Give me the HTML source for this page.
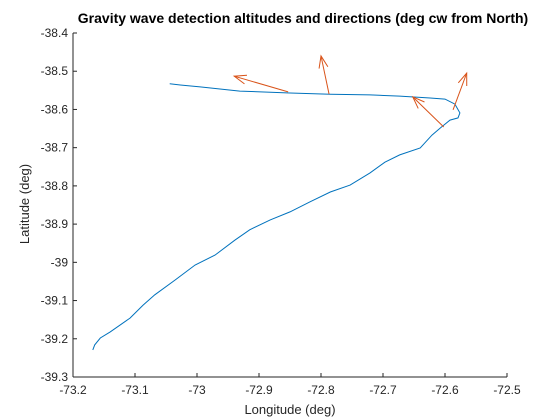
<!DOCTYPE html>
<html><head><meta charset="utf-8"><style>
body{margin:0;background:#fff;}
svg{display:block;font-family:"Liberation Sans",Arial,sans-serif;}
</style></head><body>
<svg id="chart" width="560" height="420">
<rect width="560" height="420" fill="#fff"/>
<text x="303" y="23" text-anchor="middle" font-size="14" font-weight="bold" fill="#000">Gravity wave detection altitudes and directions (deg cw from North)</text>
<g id="axes"></g>
<g id="marks"></g>
<text x="290" y="414" text-anchor="middle" font-size="13" fill="#262626">Longitude (deg)</text>
<text transform="translate(29,204) rotate(-90)" text-anchor="middle" font-size="13" fill="#262626">Latitude (deg)</text>
</svg>
<script>
const xTicks=[-73.2,-73.1,-73,-72.9,-72.8,-72.7,-72.6,-72.5];
const yTicks=[-38.4,-38.5,-38.6,-38.7,-38.8,-38.9,-39,-39.1,-39.2,-39.3];
const trackLon=[-73.044,-73.027,-72.995,-72.931,-72.850,-72.785,-72.721,-72.673,-72.624,-72.600,-72.584,-72.576,-72.579,-72.592,-72.608,-72.621,-72.640,-72.673,-72.697,-72.721,-72.753,-72.785,-72.818,-72.850,-72.882,-72.915,-72.939,-72.971,-73.003,-73.035,-73.068,-73.087,-73.108,-73.140,-73.156,-73.165,-73.168];
const trackLat=[-38.533,-38.536,-38.541,-38.552,-38.557,-38.560,-38.562,-38.565,-38.570,-38.573,-38.586,-38.609,-38.622,-38.628,-38.649,-38.667,-38.701,-38.719,-38.738,-38.766,-38.798,-38.816,-38.842,-38.868,-38.889,-38.915,-38.942,-38.981,-39.007,-39.046,-39.085,-39.112,-39.146,-39.182,-39.198,-39.216,-39.229];
const arrowLon0=[-72.853,-72.787,-72.602,-72.587];
const arrowLat0=[-38.554,-38.560,-38.646,-38.601];
const arrowLon1=[-72.940,-72.800,-72.652,-72.565];
const arrowLat1=[-38.513,-38.460,-38.567,-38.505];

const NS='http://www.w3.org/2000/svg';
const L=73,R=507,T=33,B=377;
const sx=v=>L+(v+73.2)/0.7*(R-L);
const sy=v=>T+(-38.4-v)/0.9*(B-T);
function mk(tag,attrs,parent){const e=document.createElementNS(NS,tag);for(const k in attrs)e.setAttribute(k,attrs[k]);parent.appendChild(e);return e;}
const ax=document.getElementById('axes'),mg=document.getElementById('marks');
let a=mk('line',{x1:L,y1:T,x2:L,y2:B,stroke:'#262626','stroke-width':1},ax);


a=mk('line',{x1:L,y1:B,x2:R,y2:B,stroke:'#262626','stroke-width':1},ax);


xTicks.forEach(v=>{const x=sx(v);
 const t=mk('line',{x1:x,y1:B,x2:x,y2:B-4,stroke:'#262626'},ax);
 
 
 const s=mk('text',{x:x,y:B+17,'text-anchor':'middle','font-size':12,fill:'#262626'},ax);s.textContent=String(v);
 
 
});
yTicks.forEach(v=>{const y=sy(v);
 const t=mk('line',{x1:L,y1:y,x2:L+4,y2:y,stroke:'#262626'},ax);
 
 
 const s=mk('text',{x:L-5,y:y+4,'text-anchor':'end','font-size':12,fill:'#262626'},ax);s.textContent=String(v);
 
 
});
const pts=trackLon.map((v,i)=>sx(v).toFixed(1)+','+sy(trackLat[i]).toFixed(1)).join(' ');
const tr=mk('polyline',{points:pts,fill:'none',stroke:'#0072bd','stroke-width':1},mg);


arrowLon0.forEach((v,i)=>{
 const x0=sx(v),y0=sy(arrowLat0[i]),x1=sx(arrowLon1[i]),y1=sy(arrowLat1[i]);
 const dx=x1-x0,dy=y1-y0,len=Math.hypot(dx,dy),ux=dx/len,uy=dy/len,h=12,w=4.5;
 const bx=x1-ux*h,by=y1-uy*h;
 const g=mk('g',{},mg);
 
 
 mk('line',{x1:x0,y1:y0,x2:x1,y2:y1,stroke:'#d95319','stroke-width':1},g);
 mk('polyline',{points:`${bx-uy*w},${by+ux*w} ${x1},${y1} ${bx+uy*w},${by-ux*w}`,fill:'none',stroke:'#d95319','stroke-width':1},g);
});
</script>
</body></html>
